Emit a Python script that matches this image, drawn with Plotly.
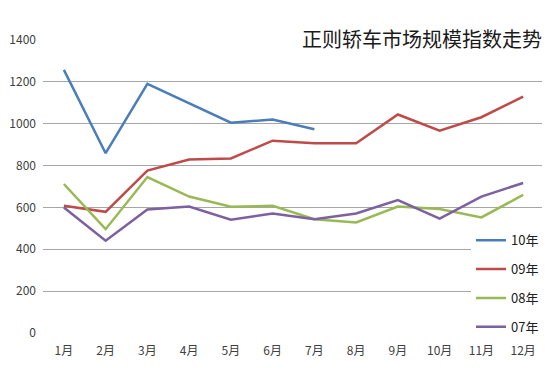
import plotly.graph_objects as go

months = ["1月", "2月", "3月", "4月", "5月", "6月", "7月", "8月", "9月", "10月", "11月", "12月"]
y10 = [1257, 859, 1190, 1099, 1005, 1020, 974]
y09 = [608, 579, 776, 829, 834, 919, 907, 907, 1044, 967, 1031, 1129]
y08 = [712, 496, 745, 652, 603, 608, 544, 528, 604, 592, 552, 660]
y07 = [600, 441, 590, 604, 541, 571, 544, 571, 635, 547, 652, 717]
series_names = ["10年", "09年", "08年", "07年"]
colors = ["#4A7EBB", "#BE4B48", "#98B954", "#7D60A0"]
title_text = "正则轿车市场规模指数走势"

font_family = "Noto Sans CJK SC"

fig = go.Figure()
for i, (name, ys) in enumerate(zip(series_names, [y10, y09, y08, y07])):
    fig.add_trace(go.Scatter(
        x=months[:len(ys)], y=ys, mode="lines", name=name,
        legendgroup=name,
        line=dict(color=colors[i], width=2.5),
    ))

# page body has an 8px margin, so the figure is sized/offset to compensate
fig.update_layout(
    width=542, height=374,
    margin=dict(l=35, r=6, t=32, b=49, autoexpand=False),
    paper_bgcolor="white", plot_bgcolor="white",
    font=dict(family=font_family, size=12, color="#404040"),
    showlegend=True,
    legend=dict(
        x=1.0, y=0.368, xanchor="right", yanchor="top",
        bgcolor="white", font=dict(size=13, color="#202020"),
        tracegroupgap=9, traceorder="grouped",
    ),
    xaxis=dict(
        type="category", categoryorder="array", categoryarray=months,
        range=[-0.5, 11.5], showgrid=False, showline=False, zeroline=False,
        ticks="", tickfont=dict(size=12, color="#404040"), ticklabelstandoff=9,
    ),
    yaxis=dict(
        range=[0, 1400], dtick=200, showgrid=True, gridcolor="#a6a6a6",
        gridwidth=1, zeroline=False, showline=False, ticks="",
        tickfont=dict(size=12, color="#404040"), ticklabelstandoff=6,
    ),
    annotations=[dict(
        text=title_text, xref="paper", yref="paper", x=1.004, y=1.0,
        xanchor="right", yanchor="middle", yshift=2, showarrow=False,
        font=dict(size=20, color="#1a1a1a", family=font_family),
        bgcolor="white", borderpad=3,
    )],
)

fig.write_html("out.html")
